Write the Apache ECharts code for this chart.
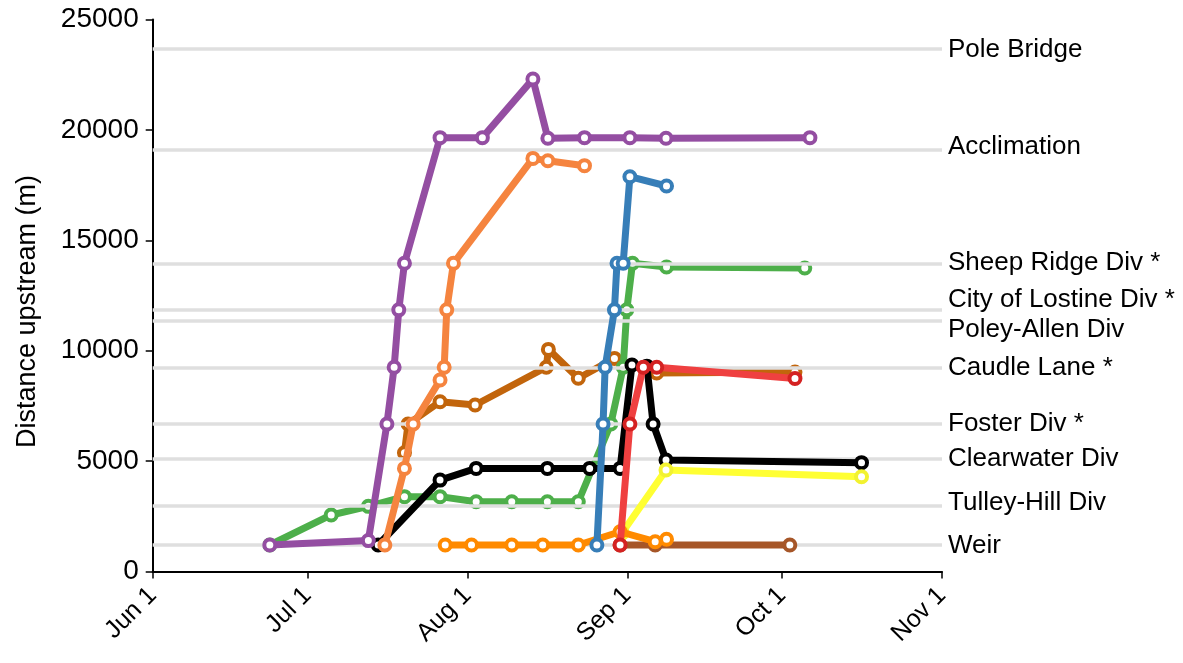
<!DOCTYPE html>
<html>
<head>
<meta charset="utf-8">
<script src="https://cdn.jsdelivr.net/npm/echarts@6/dist/echarts.min.js"></script>
<style>
  html, body { margin: 0; padding: 0; background: #ffffff; }
  #chart { width: 1183px; height: 663px; }
</style>
</head>
<body>
<div id="chart"></div>
<script>
// Time is counted in days since June 1 (June 1 = day 0).
const monthTickDays = [0, 30, 61, 92, 122, 153];
const monthTickLabels = ['Jun 1', 'Jul 1', 'Aug 1', 'Sep 1', 'Oct 1', 'Nov 1'];

// River landmarks, distance upstream in metres
const siteNames = ['Pole Bridge', 'Acclimation', 'Sheep Ridge Div *', 'City of Lostine Div *',
  'Poley-Allen Div', 'Caudle Lane *', 'Foster Div *', 'Clearwater Div', 'Tulley-Hill Div', 'Weir'];
const siteDistances = [23680, 19080, 13960, 11850, 11350, 9250, 6680, 5120, 2970, 1200];

// Individual fish tracks: detection day and distance upstream (m)
const purpleDays = [22.7, 41.8, 45.4, 46.8, 47.7, 48.8, 55.7, 63.9, 73.7, 76.6, 83.7, 92.5, 99.5, 127.4];
const purpleDist = [1200, 1400, 6680, 9250, 11850, 13960, 19650, 19650, 22300, 19620, 19650, 19650, 19620, 19650];

const salmonDays = [45.0, 48.8, 50.5, 55.7, 56.5, 57.0, 58.3, 73.7, 76.6, 83.7];
const salmonDist = [1200, 4670, 6680, 8670, 9250, 11850, 13960, 18710, 18600, 18380];

const rustDays = [48.8, 49.5, 55.7, 62.5, 76.3, 76.7, 82.5, 89.5, 97.7, 124.5];
const rustDist = [5380, 6680, 7690, 7540, 9250, 10060, 8750, 9650, 8990, 9030];

const greenDays = [22.7, 34.6, 41.8, 48.8, 55.7, 62.7, 69.6, 76.5, 82.5, 88.8, 91.2, 91.9, 93.0, 99.6, 126.4];
const greenDist = [1200, 2560, 2950, 3390, 3390, 3160, 3160, 3160, 3160, 6680, 9250, 11850, 13960, 13790, 13745];

const blackDays = [43.7, 55.7, 62.7, 76.5, 84.7, 90.6, 92.9, 95.8, 97.0, 99.5, 137.4];
const blackDist = [1200, 4140, 4670, 4670, 4670, 4670, 9350, 9300, 6680, 5050, 4930];

const orangeDays = [56.7, 61.8, 69.6, 75.6, 82.5, 90.6, 97.4, 99.6];
const orangeDist = [1200, 1200, 1200, 1200, 1200, 1800, 1350, 1460];

const blueDays = [86.1, 87.3, 87.7, 89.5, 90.0, 91.2, 92.5, 99.6];
const blueDist = [1200, 6680, 9250, 11850, 13960, 13960, 17880, 17460];

const redDays = [90.6, 92.5, 95.1, 97.7, 124.5];
const redDist = [1200, 6680, 9250, 9250, 8740];

const yellowDays = [91.0, 99.5, 137.4];
const yellowDist = [1750, 4600, 4290];

const brownDays = [90.6, 97.4, 123.5];
const brownDist = [1200, 1200, 1200];

// ---- drawing ----
const FONT = "'Liberation Sans', Arial, sans-serif";
const TEXT = '#000000';

// vertical nudges (px) for the landmark names so close ones don't collide
const siteLabelNudge = [1, -3, 0, -10, 9, 1, 0, 0, -3, 1];

function track(name, days, dist, line, marker, z) {
  return {
    name: name,
    type: 'line',
    data: days.map((d, i) => [d, dist[i]]),
    z: z,
    symbol: 'circle',
    symbolSize: 11,
    showAllSymbol: true,
    lineStyle: { color: line, width: 7, cap: 'round', join: 'round' },
    itemStyle: { color: '#ffffff', borderColor: marker || line, borderWidth: 4 },
    emphasis: { disabled: true },
    silent: true,
    animation: false
  };
}

const chart = echarts.init(document.getElementById('chart'), null, { renderer: 'canvas' });

const option = {
  animation: false,
  backgroundColor: '#ffffff',
  grid: { left: 152.7, right: 241, top: 19.5, bottom: 91.5, containLabel: false },
  xAxis: {
    type: 'value',
    min: 0,
    max: 153,
    splitLine: { show: false },
    axisLine: { show: true, onZero: false, lineStyle: { color: '#000', width: 2 } },
    axisTick: { show: true, customValues: monthTickDays, length: 7, lineStyle: { color: '#000', width: 1.5 } },
    axisLabel: {
      customValues: monthTickDays,
      rotate: 45,
      margin: 20,
      fontSize: 25,
      fontFamily: FONT,
      color: TEXT,
      formatter: v => monthTickLabels[monthTickDays.indexOf(Math.round(v))] || ''
    }
  },
  yAxis: {
    type: 'value',
    min: 0,
    max: 25000,
    interval: 5000,
    name: 'Distance upstream (m)',
    nameLocation: 'middle',
    nameGap: 112,
    nameTextStyle: { fontSize: 27, fontFamily: FONT, color: TEXT, padding: [0, 0, 0, -32] },
    splitLine: { show: false },
    axisLine: { show: true, lineStyle: { color: '#000', width: 2 } },
    axisTick: { show: true, length: 7, lineStyle: { color: '#000', width: 1.5 } },
    axisLabel: { fontSize: 28, fontFamily: FONT, color: TEXT, margin: 14, formatter: v => String(v) }
  },
  series: [
    {
      name: 'landmarks',
      type: 'scatter',
      data: siteDistances.map((d, i) => ({
        value: [153, d],
        name: siteNames[i],
        label: { offset: [0, siteLabelNudge[i]] }
      })),
      symbolSize: 0,
      silent: true,
      z: 1,
      itemStyle: { opacity: 1 },
      label: {
        show: true,
        position: 'right',
        distance: 6,
        formatter: p => p.name,
        fontSize: 26,
        fontFamily: FONT,
        color: TEXT,
        opacity: 1
      },
      markLine: {
        silent: true,
        symbol: ['none', 'none'],
        label: { show: false },
        lineStyle: { color: '#dfdfdf', width: 3.5, type: 'solid', opacity: 1 },
        emphasis: { disabled: true },
        data: siteDistances.map(d => ({ yAxis: d }))
      }
    },
    track('rust', rustDays, rustDist, '#c2650c', null, 3),
    track('green', greenDays, greenDist, '#4daf4a', null, 4),
    track('black', blackDays, blackDist, '#000000', null, 5),
    track('salmon', salmonDays, salmonDist, '#f5843f', null, 6),
    track('purple', purpleDays, purpleDist, '#944ea2', null, 7),
    track('brown', brownDays, brownDist, '#a65628', null, 8),
    track('yellow', yellowDays, yellowDist, '#ffff33', '#f2f230', 9),
    track('orange', orangeDays, orangeDist, '#ff8a00', null, 10),
    track('blue', blueDays, blueDist, '#377eb8', null, 11),
    track('red', redDays, redDist, '#ef4040', '#d42222', 12)
  ]
};

chart.setOption(option);
</script>
</body>
</html>
